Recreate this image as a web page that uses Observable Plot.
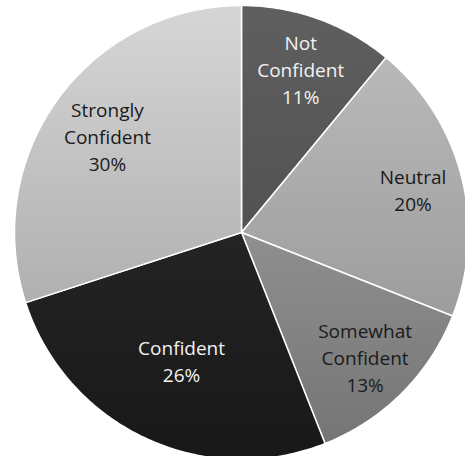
<!DOCTYPE html>
<html>
<head>
<meta charset="utf-8">
<script src="https://cdn.jsdelivr.net/npm/d3@7"></script>
<script src="https://cdn.jsdelivr.net/npm/@observablehq/plot@0.6"></script>
<style>
  html, body { margin: 0; padding: 0; background: #fff; }
  #chart { width: 465px; height: 456px; }
</style>
</head>
<body>
<div id="chart"></div>
<script>
// Data
const categories = ["Not Confident", "Neutral", "Somewhat Confident", "Confident", "Strongly Confident"];
const percents = [11, 20, 13, 26, 30];

// Styles (kept apart from the data)
const gradTop = ["#5f5f5f", "#b9b9b9", "#8f8f8f", "#242424", "#d6d6d6"];
const gradBottom = ["#525252", "#9d9d9d", "#757575", "#181818", "#b0b0b0"];
const textColors = ["#f2f2f2", "#1a1a1a", "#1a1a1a", "#f2f2f2", "#1a1a1a"];
const labelRadius = [0.77, 0.78, 0.77, 0.62, 0.73];

const W = 465, H = 456, CX = 241, CY = 232, R = 227;

// Angles from d3.pie (clockwise from 12 o'clock)
const arcs = d3.pie().sort(null).value(d => d)(percents);

const slicePoints = [];
arcs.forEach((a, i) => {
  const n = Math.max(8, Math.ceil((a.endAngle - a.startAngle) * 80));
  slicePoints.push({cat: categories[i], x: 0, y: 0});
  for (let k = 0; k <= n; k++) {
    const t = a.startAngle + (a.endAngle - a.startAngle) * k / n;
    slicePoints.push({cat: categories[i], x: Math.sin(t), y: Math.cos(t)});
  }
});

const labels = arcs.map((a, i) => {
  const m = (a.startAngle + a.endAngle) / 2;
  return {
    cat: categories[i],
    text: categories[i].replace(" ", "\n") + "\n" + percents[i] + "%",
    x: labelRadius[i] * Math.sin(m),
    y: labelRadius[i] * Math.cos(m),
    color: textColors[i]
  };
});

const gradIds = categories.map((c, i) => "slice-grad-" + i);

const chart = Plot.plot({
  width: W,
  height: H,
  margin: 0,
  x: {domain: [-CX / R, (W - CX) / R], axis: null},
  y: {domain: [-(H - CY) / R, CY / R], axis: null},
  color: {type: "ordinal", domain: categories, range: gradIds.map(id => `url(#${id})`)},
  style: {fontFamily: "'Open Sans', sans-serif", background: "white"},
  marks: [
    Plot.line(slicePoints, {
      x: "x", y: "y", z: "cat", fill: "cat",
      stroke: "white", strokeWidth: 1.5, curve: "linear-closed"
    }),
    Plot.text(labels, {
      x: "x", y: "y", text: "text", fill: "color",
      fontSize: 19, lineHeight: 1.43, textAnchor: "middle", lineAnchor: "middle"
    })
  ]
});

// Vertical gradient fills for the slices
const defs = d3.select(chart).insert("defs", ":first-child");
gradIds.forEach((id, i) => {
  const g = defs.append("linearGradient").attr("id", id)
    .attr("x1", 0).attr("y1", 0).attr("x2", 0).attr("y2", 1);
  g.append("stop").attr("offset", "0%").attr("stop-color", gradTop[i]);
  g.append("stop").attr("offset", "100%").attr("stop-color", gradBottom[i]);
});

document.getElementById("chart").appendChild(chart);
</script>
</body>
</html>
